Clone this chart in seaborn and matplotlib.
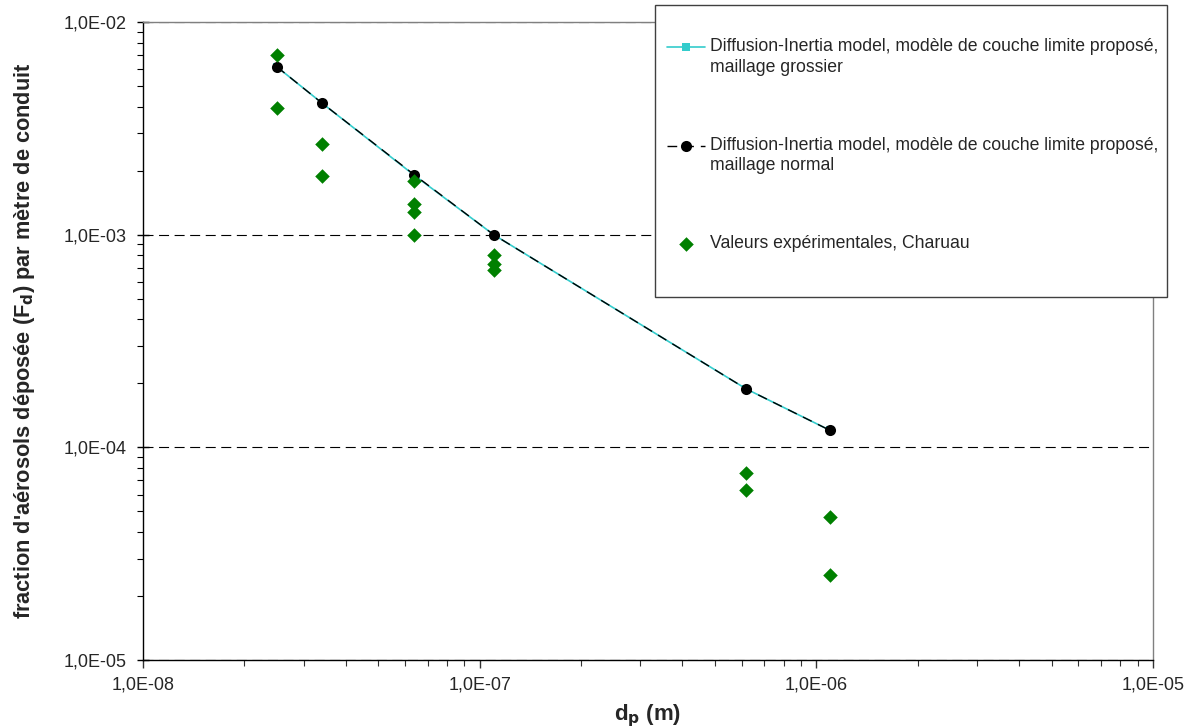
import numpy as np
import pandas as pd
import matplotlib
matplotlib.use('Agg')
import matplotlib.pyplot as plt
import seaborn as sns
from matplotlib.ticker import FuncFormatter, LogLocator, NullFormatter
from matplotlib.patches import Rectangle
from matplotlib.legend_handler import HandlerLine2D

# values
dp_model = [2.5e-8, 3.4e-8, 6.4e-8, 1.1e-7, 6.2e-7, 1.1e-6]
fd_grossier = [6.15e-3, 4.16e-3, 1.90e-3, 1.00e-3, 1.88e-4, 1.20e-4]
fd_normal = [6.15e-3, 4.16e-3, 1.91e-3, 1.00e-3, 1.88e-4, 1.20e-4]

dp_exp = [2.5e-8, 2.5e-8, 3.4e-8, 3.4e-8, 6.4e-8, 6.4e-8, 6.4e-8, 6.4e-8,
          1.1e-7, 1.1e-7, 1.1e-7, 6.2e-7, 6.2e-7, 1.1e-6, 1.1e-6]
fd_exp = [7.0e-3, 3.95e-3, 2.67e-3, 1.89e-3, 1.79e-3, 1.39e-3, 1.28e-3, 1.0e-3,
          8.0e-4, 7.3e-4, 6.8e-4, 7.6e-5, 6.3e-5, 4.7e-5, 2.5e-5]

lbl_grossier = "Diffusion-Inertia model, modèle de couche limite proposé,\nmaillage grossier"
lbl_normal = "Diffusion-Inertia model, modèle de couche limite proposé,\nmaillage normal"
lbl_exp = "Valeurs expérimentales, Charuau"

model = pd.DataFrame({'dp': dp_model, 'grossier': fd_grossier, 'normal': fd_normal})
exp = pd.DataFrame({'dp': dp_exp, 'fd': fd_exp})

sns.set_style('white')
plt.rcParams['font.family'] = ['Liberation Sans', 'DejaVu Sans']


# legend handle aligned with the first line of a two-line label
class FirstLineHandler(HandlerLine2D):
    def create_artists(self, legend, orig_handle, xdescent, ydescent,
                       width, height, fontsize, trans):
        return super().create_artists(legend, orig_handle, xdescent, ydescent - 14,
                                      width, height, fontsize, trans)


W, H = 1197, 728
fig = plt.figure(figsize=(W / 100, H / 100), dpi=100)
ax = fig.add_axes([143 / W, 1 - 660 / H, (1153 - 143) / W, (660 - 22) / H])
ax.set_xscale('log')
ax.set_yscale('log')

sns.lineplot(data=model, x='dp', y='grossier', ax=ax, color='#33CCCC', lw=1.2,
             marker='s', markersize=6, markeredgewidth=0, estimator=None,
             sort=False, label=lbl_grossier, zorder=3)
sns.lineplot(data=model, x='dp', y='normal', ax=ax, color='black', lw=1,
             linestyle=(0, (7, 5)), marker='o', markersize=8, markeredgewidth=0,
             estimator=None, sort=False, label=lbl_normal, zorder=4)
sns.scatterplot(data=exp, x='dp', y='fd', ax=ax, color='#008000', marker='D',
                s=55, linewidth=0, label=lbl_exp, zorder=5)

ax.set_xlim(1e-8, 1e-5)
ax.set_ylim(1e-5, 1e-2)

fmt = FuncFormatter(lambda v, _: f"{v:.1E}".replace('.', ','))
for axis in (ax.xaxis, ax.yaxis):
    axis.set_major_locator(LogLocator(base=10))
    axis.set_minor_locator(LogLocator(base=10, subs=np.arange(2, 10)))
    axis.set_major_formatter(fmt)
    axis.set_minor_formatter(NullFormatter())

ax.tick_params(axis='x', which='major', direction='out', length=6, width=1,
               color='#333333', labelsize=13, pad=6, bottom=True)
ax.tick_params(axis='x', which='minor', direction='out', length=4, width=0.8,
               color='#333333', bottom=True)
ax.tick_params(axis='y', which='major', direction='inout', length=8, width=1,
               color='black', labelsize=13, pad=8, left=True)
ax.tick_params(axis='y', which='minor', direction='out', length=4, width=0.8,
               color='black', left=True)

ax.set_axisbelow(True)
ax.grid(axis='y', which='major', color='black', lw=0.8, linestyle=(0, (9, 5)))
ax.grid(axis='x', visible=False)

for side in ('left', 'bottom'):
    ax.spines[side].set_color('black')
    ax.spines[side].set_linewidth(1)
for side in ('top', 'right'):
    ax.spines[side].set_color('#808080')
    ax.spines[side].set_linewidth(1)

ax.set_xlabel('d$_\\mathbf{p}$ (m)', fontsize=16, fontweight='bold', labelpad=6)
ax.set_ylabel("fraction d'aérosols déposée (F$_\\mathbf{d}$) par mètre de conduit",
              fontsize=15.7, fontweight='bold')
ax.yaxis.set_label_coords((37 - 143) / 1010, 0.5)

# legend box
handles, labels = ax.get_legend_handles_labels()
ax.get_legend().remove()
fig.add_artist(Rectangle((655 / W, 1 - 297 / H), 512 / W, 292 / H,
                         transform=fig.transFigure, facecolor='white',
                         edgecolor='#404040', lw=1, zorder=2))
leg = fig.legend(handles, labels, loc='upper left', bbox_to_anchor=(658 / W, 1 - 29 / H),
                 frameon=False, fontsize=12.7, borderpad=0, labelspacing=3.45,
                 handlelength=2.16, handletextpad=0.28,
                 handler_map={h: FirstLineHandler() for h in handles[:2]})
for t in leg.get_texts():
    t.set_linespacing(1.3)

fig.savefig('out.png', dpi=100)
